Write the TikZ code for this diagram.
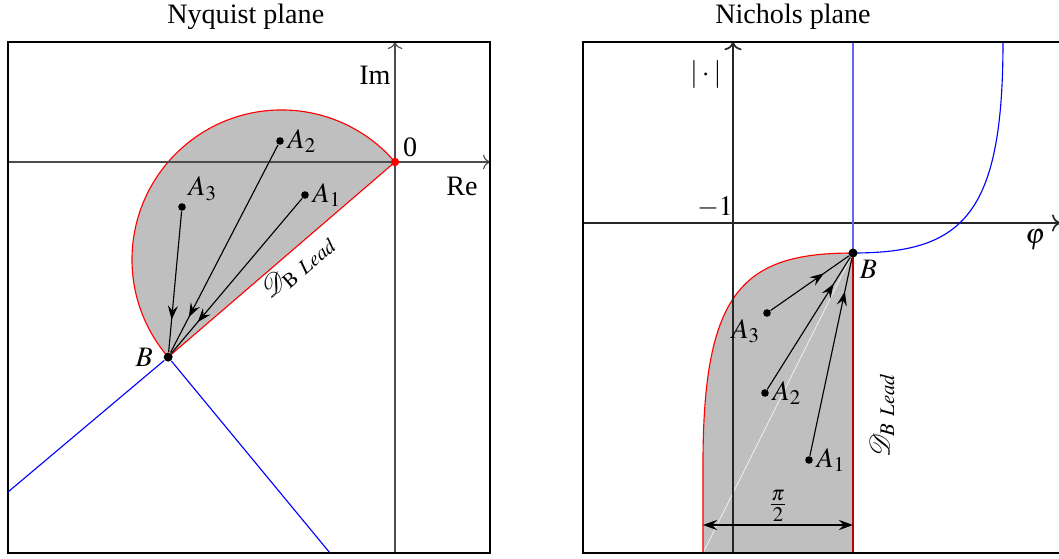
\documentclass[tikz,border=0pt]{standalone}
\usepackage{mathptmx}
\usepackage{mathrsfs}
\usepackage[no-math]{fontspec}
\setmainfont{Liberation Serif}
\usepackage{tikz}
\usetikzlibrary{arrows.meta,decorations.markings,calc}

\tikzset{
  pt/.style={circle, fill=black, inner sep=0pt, minimum size=2.7pt},
  bpt/.style={circle, fill=black, inner sep=0pt, minimum size=3.2pt},
  lbl/.style={inner sep=1pt},
  planebox/.style={line width=1pt},
  axis/.style={->, black!70},
  raxis/.style={->, black!85, semithick},
  region/.style={fill=gray!50},
  midarr/.style={postaction={decorate}, decoration={markings,
    mark=at position #1 with {\arrow{Stealth[length=5pt,width=3.6pt,inset=1.8pt]}}}},
}

\begin{document}
\begin{tikzpicture}
\useasboundingbox (-4.9375,-4.95) rectangle (8.3,2.025);

% Nyquist plane
\coordinate (O) at (0,0);
\coordinate (B0) at (220.7:3.74);
\draw[red, region] (O) arc[start angle=40.7, end angle=220.7, radius=1.87] -- cycle;
\draw[axis] (-4.8375,0) -- (1.1875,0);
\draw[axis] (0,-4.8875) -- (0,1.5);
\draw[planebox] (-4.8375,-4.8875) rectangle (1.1875,1.5);
\node[anchor=south] (nyq) at (-1.865,1.53) {Nyquist plane};

\node[circle, fill=red, inner sep=0pt, minimum size=3pt] (Odot) at (O) {};
\node[bpt, label={[lbl, label distance=2.5pt]left:$B$}] (B) at (B0) {};
\node[pt, label={[lbl]right:$A_1$}] (A1) at (-1.125,-0.4125) {};
\node[pt, label={[lbl]right:$A_2$}] (A2) at (-1.4375,0.2625) {};
\node[pt, label={[lbl]above right:$A_3$}] (A3) at (-2.6625,-0.5625) {};

\coordinate (bw) at (-4.8375,-4.125);
\coordinate (bs) at (-0.8125,-4.8875);
\draw[blue] (B) -- (bw);
\draw[blue] (B) -- (bs);

\draw[midarr=0.8] (A1) -- (B);
\draw[midarr=0.83] (A2) -- (B);
\draw[midarr=0.77] (A3) -- (B);
\path (B) -- (O) node[sloped, pos=0.52, below, lbl] {$\mathscr{D}_{\mathrm{B}\ Lead}$};

\node (im) at (-0.25,1.0875) {Im};
\node (re) at (0.8375,-0.3) {Re};
\node (zero) at (0.19,0.19) {0};

% Nichols plane
\begin{scope}[shift={(4.225,-0.7625)}]
  \coordinate (rB0) at (1.5,-0.375);
  \fill[region] (rB0) .. controls (0.125,-0.375) and (-0.375,-0.85) .. (-0.375,-3.0125)
    -- (-0.375,-4.125) -- (1.5,-4.125) -- cycle;
  \draw[white, line width=0.2pt] (rB0) -- (-0.375,-4.125);
  \draw[red] (rB0) .. controls (0.125,-0.375) and (-0.375,-0.85) .. (-0.375,-3.0125)
    -- (-0.375,-4.125);
  \draw[red!75!black, semithick] (rB0) -- (1.5,-4.125);
  \draw[raxis] (-1.875,0) -- (4.09,0);
  \draw[raxis] (0,-4.125) -- (0,2.2625);
  \draw[blue!60] (1.5,2.2625) -- (rB0);
  \draw[blue] (rB0) .. controls (2.875,-0.375) and (3.375,0.1) .. (3.375,2.2625);
  \draw[planebox] (-1.875,-4.125) rectangle (4.4,2.2625);
  \node[anchor=south] (nic) at (0.75,2.2925) {Nichols plane};

  \node[bpt, label={[lbl]below right:$B$}] (rB) at (rB0) {};
  \node[pt, label={[lbl]right:$A_1$}] (rA1) at (0.95,-2.9625) {};
  \node[pt, label={[lbl]right:$A_2$}] (rA2) at (0.4,-2.125) {};
  \node[pt, label={[lbl]below left:$A_3$}] (rA3) at (0.425,-1.125) {};

  \draw[midarr=0.83] (rA1) -- (rB);
  \draw[midarr=0.8] (rA2) -- (rB);
  \draw[midarr=0.68] (rA3) -- (rB);

  \coordinate (dl) at (-0.375,-3.775);
  \coordinate (dr) at (1.5,-3.775);
  \draw[{Stealth[length=5pt,width=3.6pt,inset=1.8pt]}-{Stealth[length=5pt,width=3.6pt,inset=1.8pt]}]
    (dl) -- (dr) node[midway, above, lbl] {$\frac{\pi}{2}$};

  \node[rotate=90] (dlead) at (1.8625,-2.4) {$\mathscr{D}_{B\ Lead}$};
  \node (mag) at (-0.34,1.85) {$|\cdot|$};
  \node (m1) at (-0.225,0.2) {$-1$};
  \node (phi) at (3.775,-0.2125) {$\varphi$};
\end{scope}
\end{tikzpicture}
\end{document}
